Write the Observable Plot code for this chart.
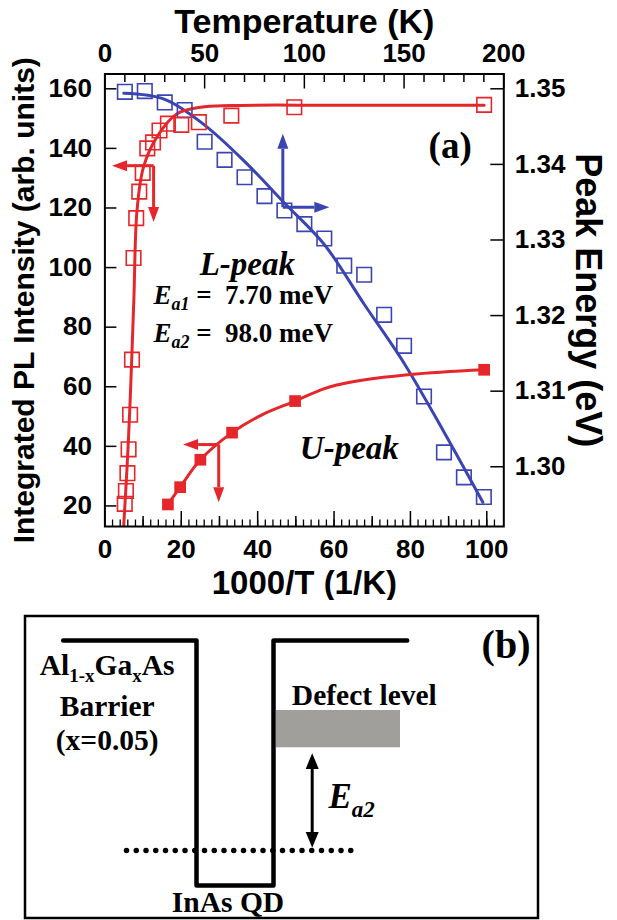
<!DOCTYPE html>
<html><head><meta charset="utf-8">
<script src="https://cdn.jsdelivr.net/npm/d3@7"></script>
<script src="https://cdn.jsdelivr.net/npm/@observablehq/plot@0.6"></script>
<style>
body{margin:0;background:#fff;width:617px;}
svg{display:block;}
</style></head><body><div id="a"></div><div id="b"></div>
<script>
// ---------------- Panel (a) data ----------------
// L-peak integrated intensity (open red squares), x = 1000/T (1/K)
const lInvT = [99.3, 49.6, 33.1, 24.6, 20.0, 16.5, 14.3, 12.6, 11.1, 9.9, 9.0, 8.2, 7.5, 7.1, 6.6, 6.2, 5.9, 5.5, 5.2];
const lIntensity = [154.6, 153.8, 151.0, 148.8, 147.9, 148.3, 146.0, 142.0, 140.0, 131.8, 125.5, 116.6, 103.2, 69.1, 50.6, 39.0, 31.0, 25.0, 20.7];
// L-peak fit curve
const lFitInvT = [4.9, 5.8, 6.5, 7.1, 7.6, 8.4, 10.1, 13.6, 18.9, 25, 33, 60, 99.3];
const lFitIntensity = [12.9, 33, 52, 72, 90, 119, 133.7, 143.8, 151.6, 153.8, 154.4, 154.5, 154.5];
// U-peak integrated intensity (filled red squares)
const uInvT = [16.5, 19.7, 25.0, 33.3, 49.8, 99.3];
const uIntensity = [20.5, 26.3, 35.5, 44.6, 55.2, 65.7];
const uFitInvT = [16.5, 19.7, 25.0, 33.3, 41, 49.8, 57.3, 64.2, 79.9, 99.3];
const uFitIntensity = [20.5, 26.3, 35.5, 44.6, 50.5, 55.2, 59.3, 61.5, 64.1, 65.7];
// Peak energy vs temperature (blue open squares)
const tempK = [10, 20, 30, 40, 50, 60, 70, 80, 90, 100, 110, 120, 130, 140, 150, 160, 170, 180, 190];
const peakEnergy = [1.3496, 1.3497, 1.3482, 1.3472, 1.3430, 1.3406, 1.3383, 1.3358, 1.3339, 1.3321, 1.3302, 1.3266, 1.3254, 1.3201, 1.3160, 1.3093, 1.3019, 1.2986, 1.2960];
const eFitT = [9.5, 30, 50, 70, 90, 110, 130, 150, 170, 189.5];
const eFitE = [1.3494, 1.3486, 1.3452, 1.3404, 1.3349, 1.3294, 1.3215, 1.3137, 1.3046, 1.2953];

// Tick values
const leftTicks = [20, 40, 60, 80, 100, 120, 140, 160];
const rightTicksE = [1.30, 1.31, 1.32, 1.33, 1.34, 1.35];
const bottomTicks = [0, 20, 40, 60, 80, 100];
const bottomMidTicks = [10, 30, 50, 70, 90];
const bottomMinorTicks = d3.range(2, 104, 2);
const topTicksT = [0, 50, 100, 150, 200];
const topMinorT = [10, 20, 30, 40, 60, 70, 80, 90, 110, 120, 130, 140, 160, 170, 180, 190];

// Arrows (joint -> arrow head base)
const redArrows = [
  {x1: 12.75, y1: 134.2, x2: 5.8, y2: 134.2, dir: "left"},
  {x1: 12.75, y1: 134.2, x2: 12.75, y2: 120.3, dir: "down"},
  {x1: 29.8, y1: 40.6, x2: 24.4, y2: 40.6, dir: "left"},
  {x1: 29.8, y1: 40.6, x2: 29.8, y2: 26.3, dir: "down"}
];
const blueArrows = [
  {T1: 89.2, E1: 1.33434, T2: 89.2, E2: 1.34206, dir: "up"},
  {T1: 89.2, E1: 1.33434, T2: 105.0, E2: 1.33434, dir: "right"}
];

// ---------------- Panel (b) schematic data (x: px, e: schematic energy) ----------------
const bandX = [62.7, 196, 196, 273, 273, 406.7];
const bandE = [280, 280, 35, 35, 280, 280];
const qdLevelX = [126, 360];
const qdLevelE = [70, 70];
const defectLevel = {x1: 276, x2: 400, e1: 172.7, e2: 210};
const ea2Arrow = {x: 311.7, eTop: 151.6, eBottom: 88.4};
const panelBox = {x1: 25, x2: 538, e1: 2, e2: 304};

// ---------------- helpers ----------------
const RED = "#e5262a", BLUE = "#3a44b2";
const SANS = "'Liberation Sans', Arial, sans-serif";
const SERIF = "'Liberation Serif', 'Times New Roman', serif";
const XMAX = 104.45, TMAX = 200;
const tToX = t => t * XMAX / TMAX;
const Y_PER_E = 2537;
const eToY = e => 160 + (e - 1.35) * Y_PER_E;
const yToE = y => 1.35 + (y - 160) / Y_PER_E;
const dirs = {left: [-1, 0], right: [1, 0], up: [0, -1], down: [0, 1]};
function head(dir, L = 15, hw = 5.5) {
  const [dx, dy] = dirs[dir];
  return {draw(ctx) {
    const px = -dy, py = dx;
    ctx.moveTo(dx * L, dy * L);
    ctx.lineTo(px * hw, py * hw);
    ctx.lineTo(-px * hw, -py * hw);
    ctx.closePath();
  }};
}
function richText(svg, plain, parts) {
  for (const el of svg.querySelectorAll("text")) {
    if (el.textContent === plain) {
      el.textContent = "";
      let shift = 0;
      for (const p of parts) {
        const ts = document.createElementNS("http://www.w3.org/2000/svg", "tspan");
        ts.textContent = p.t;
        if (p.italic) ts.setAttribute("font-style", "italic");
        if (p.size) ts.setAttribute("font-size", p.size);
        const want = p.sub || 0;
        if (want !== shift) { ts.setAttribute("dy", want - shift); shift = want; }
        el.appendChild(ts);
      }
    }
  }
}

const W = 617, H1 = 600;
const mL = 104.4, mR = 113.7, mT = 73.5, mB = 74;
const fw = W - mL - mR, fh = H1 - mT - mB;

const zip = (xs, ys) => xs.map((x, i) => ({x, y: ys[i]}));
const lPts = zip(lInvT, lIntensity), lFit = zip(lFitInvT, lFitIntensity);
const uPts = zip(uInvT, uIntensity), uFit = zip(uFitInvT, uFitIntensity);
const ePts = tempK.map((t, i) => ({x: tToX(t), y: eToY(peakEnergy[i])}));
const eFit = eFitT.map((t, i) => ({x: tToX(t), y: eToY(eFitE[i])}));
const bArrows = blueArrows.map(a => ({x1: tToX(a.T1), y1: eToY(a.E1), x2: tToX(a.T2), y2: eToY(a.E2), dir: a.dir}));

const serifText = {fontFamily: SERIF, fontWeight: "bold", fill: "black"};

const plotA = Plot.plot({
  width: W, height: H1, marginLeft: mL, marginRight: mR, marginTop: mT, marginBottom: mB,
  x: {domain: [0, XMAX]},
  y: {domain: [13.1, 164.97]},
  style: {fontFamily: SANS, fontWeight: "bold", fontSize: "26px", background: "white", color: "black"},
  marks: [
    // inward ticks
    Plot.tickY(leftTicks, {y: d => d, insetRight: fw - 12, strokeWidth: 1.5}),
    Plot.tickY(rightTicksE.map(eToY), {y: d => d, insetLeft: fw - 13, strokeWidth: 1.5}),
    Plot.tickX(bottomTicks, {x: d => d, insetTop: fh - 15, strokeWidth: 1.5}),
    Plot.tickX(bottomMidTicks, {x: d => d, insetTop: fh - 10, strokeWidth: 1.5}),
    Plot.tickX(bottomMinorTicks, {x: d => d, insetTop: fh - 6.5, strokeWidth: 1.3}),
    Plot.tickX(topTicksT.map(tToX), {x: d => d, insetBottom: fh - 15, strokeWidth: 1.5}),
    Plot.tickX(topMinorT.map(tToX), {x: d => d, insetBottom: fh - 8.5, strokeWidth: 1.5}),
    // tick labels
    Plot.axisX(bottomTicks, {anchor: "bottom", tickSize: 0, tickPadding: 13, label: null}),
    Plot.axisX(topTicksT.map(tToX), {anchor: "top", tickSize: 0, tickPadding: 12, label: null,
      tickFormat: d => String(Math.round(d * TMAX / XMAX))}),
    Plot.axisY(leftTicks, {anchor: "left", tickSize: 0, tickPadding: 13, label: null}),
    Plot.axisY(rightTicksE.map(eToY), {anchor: "right", tickSize: 0, tickPadding: 11, label: null,
      tickFormat: d => yToE(d).toFixed(2)}),
    // axis titles
    Plot.text(["Temperature (K)"], {frameAnchor: "top", dy: -52, lineAnchor: "middle", textAnchor: "middle", fontSize: 34, text: d => d}),
    Plot.text(["1000/T (1/K)"], {frameAnchor: "bottom", dy: 57, lineAnchor: "middle", textAnchor: "middle", fontSize: 33, text: d => d}),
    Plot.text(["Integrated PL Intensity (arb. units)"], {frameAnchor: "left", dx: -81, rotate: -90, lineAnchor: "middle", textAnchor: "middle", fontSize: 30, text: d => d}),
    Plot.text(["Peak Energy (eV)"], {frameAnchor: "right", dx: 84, rotate: 90, lineAnchor: "middle", textAnchor: "middle", fontSize: 36, text: d => d}),
    // fits
    Plot.line(eFit, {x: "x", y: "y", stroke: BLUE, strokeWidth: 3, curve: "catmull-rom", clip: true}),
    Plot.line(lFit, {x: "x", y: "y", stroke: RED, strokeWidth: 3, curve: "catmull-rom", clip: true}),
    Plot.line(uFit, {x: "x", y: "y", stroke: RED, strokeWidth: 3, curve: "catmull-rom", clip: true}),
    // data
    Plot.dot(ePts, {x: "x", y: "y", symbol: "square", r: 8.2, stroke: BLUE, strokeWidth: 1.6, fill: "none"}),
    Plot.dot(lPts, {x: "x", y: "y", symbol: "square", r: 8.2, stroke: RED, strokeWidth: 1.6, fill: "none"}),
    Plot.dot(uPts, {x: "x", y: "y", symbol: "square", r: 6.6, fill: RED, stroke: "none"}),
    // arrows
    Plot.link(redArrows, {x1: "x1", y1: "y1", x2: "x2", y2: "y2", stroke: RED, strokeWidth: 3}),
    ...["left", "down"].map(d => Plot.dot(redArrows.filter(a => a.dir === d), {x: "x2", y: "y2", symbol: head(d), fill: RED, stroke: "none"})),
    Plot.link(bArrows, {x1: "x1", y1: "y1", x2: "x2", y2: "y2", stroke: BLUE, strokeWidth: 3}),
    ...["up", "right"].map(d => Plot.dot(bArrows.filter(a => a.dir === d), {x: "x2", y: "y2", symbol: head(d), fill: BLUE, stroke: "none"})),
    // annotations
    Plot.text(["(a)"], {x: 90.4, y: 136.8, lineAnchor: "bottom", fontSize: 37, text: d => d, ...serifText}),
    Plot.text(["L-peak"], {x: 37.3, y: 97.4, lineAnchor: "bottom", fontSize: 33, fontStyle: "italic", text: d => d, ...serifText}),
    Plot.text(["Ea1 = 7.70 meV"], {x: 12.7, y: 87.7, lineAnchor: "bottom", textAnchor: "start", fontSize: 27, text: d => d, ...serifText}),
    Plot.text(["Ea2 = 98.0 meV"], {x: 12.7, y: 75.0, lineAnchor: "bottom", textAnchor: "start", fontSize: 27, text: d => d, ...serifText}),
    Plot.text(["U-peak"], {x: 64.0, y: 35.9, lineAnchor: "bottom", fontSize: 33, fontStyle: "italic", text: d => d, ...serifText}),
    Plot.frame({stroke: "black", strokeWidth: 2})
  ]
});
richText(plotA, "Ea1 = 7.70 meV", [{t: "E", italic: true}, {t: "a1", italic: true, size: 18, sub: 6}, {t: " =  7.70 meV"}]);
richText(plotA, "Ea2 = 98.0 meV", [{t: "E", italic: true}, {t: "a2", italic: true, size: 18, sub: 6}, {t: " =  98.0 meV"}]);
document.getElementById("a").appendChild(plotA);

// ---------------- Panel (b) ----------------
const plotB = Plot.plot({
  width: W, height: 320, margin: 0,
  x: {domain: [0, 617], axis: null},
  y: {domain: [0, 320], axis: null},
  style: {fontFamily: SERIF, fontWeight: "bold", fontSize: "29.5px", background: "white", color: "black"},
  marks: [
    Plot.rect([panelBox], {x1: "x1", x2: "x2", y1: "e1", y2: "e2", fill: "none", stroke: "black", strokeWidth: 2.5}),
    Plot.rect([defectLevel], {x1: "x1", x2: "x2", y1: "e1", y2: "e2", fill: "#a09f9b"}),
    Plot.line(zip(bandX, bandE), {x: "x", y: "y", stroke: "black", strokeWidth: 4.5, strokeLinejoin: "round", strokeLinecap: "round"}),
    Plot.line(zip(qdLevelX, qdLevelE), {x: "x", y: "y", stroke: "black", strokeWidth: 5.5, strokeDasharray: "0 9.75", strokeLinecap: "round"}),
    Plot.link([ea2Arrow], {x1: "x", x2: "x", y1: "eTop", y2: "eBottom", stroke: "black", strokeWidth: 3}),
    Plot.dot([ea2Arrow], {x: "x", y: "eTop", symbol: head("up", 15.7, 6.5), fill: "black", stroke: "none"}),
    Plot.dot([ea2Arrow], {x: "x", y: "eBottom", symbol: head("down", 15.7, 6.5), fill: "black", stroke: "none"}),
    Plot.text(["Al1-xGaxAs"], {x: 106.7, y: 246, lineAnchor: "bottom", text: d => d}),
    Plot.text(["Barrier"], {x: 106.7, y: 205, lineAnchor: "bottom", text: d => d}),
    Plot.text(["(x=0.05)"], {x: 106.7, y: 171, lineAnchor: "bottom", text: d => d}),
    Plot.text(["InAs QD"], {x: 227.5, y: 8.3, lineAnchor: "bottom", text: d => d}),
    Plot.text(["Defect level"], {x: 363.8, y: 216, lineAnchor: "bottom", text: d => d}),
    Plot.text(["Ea2"], {x: 328, y: 112.7, lineAnchor: "bottom", textAnchor: "start", fontSize: 35, text: d => d}),
    Plot.text(["(b)"], {x: 505.5, y: 263, lineAnchor: "bottom", fontSize: 40, text: d => d})
  ]
});
richText(plotB, "Al1-xGaxAs", [{t: "Al"}, {t: "1-x", size: 19, sub: 7}, {t: "Ga"}, {t: "x", size: 19, sub: 7}, {t: "As"}]);
richText(plotB, "Ea2", [{t: "E", italic: true}, {t: "a2", italic: true, size: 23, sub: 9}]);
document.getElementById("b").appendChild(plotB);
</script></body></html>
